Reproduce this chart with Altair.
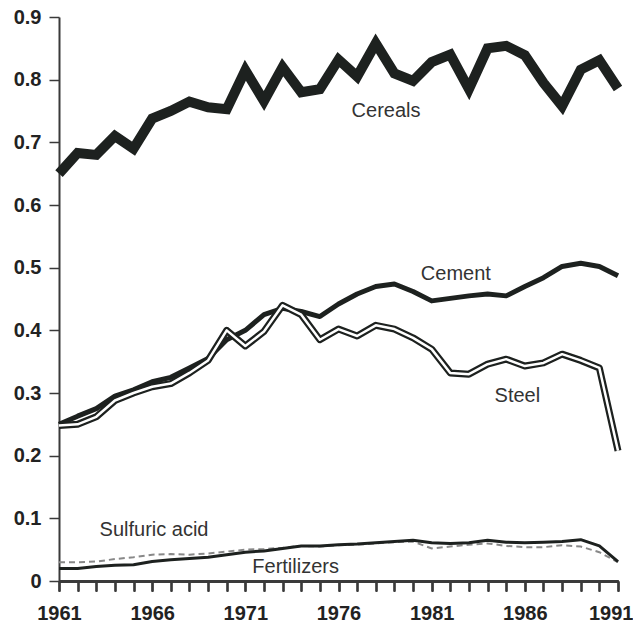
import altair as alt
import pandas as pd

years = list(range(1961, 1992))
year_labels = [1961, 1966, 1971, 1976, 1981, 1986, 1991]
cereals = [0.650, 0.683, 0.680, 0.710, 0.690, 0.738, 0.750, 0.765, 0.756, 0.753,
           0.815, 0.766, 0.820, 0.780, 0.785, 0.832, 0.805, 0.858, 0.810, 0.798,
           0.828, 0.840, 0.785, 0.850, 0.854, 0.839, 0.795, 0.758, 0.816, 0.831, 0.786]
cement = [0.250, 0.263, 0.275, 0.295, 0.305, 0.318, 0.325, 0.340, 0.355, 0.385,
          0.400, 0.425, 0.435, 0.430, 0.422, 0.442, 0.458, 0.470, 0.474, 0.462,
          0.447, 0.451, 0.455, 0.458, 0.455, 0.470, 0.484, 0.502, 0.507, 0.502, 0.487]
steel = [0.248, 0.250, 0.262, 0.288, 0.300, 0.310, 0.315, 0.332, 0.352, 0.400,
         0.375, 0.398, 0.440, 0.425, 0.385, 0.402, 0.391, 0.408, 0.402, 0.388,
         0.370, 0.332, 0.330, 0.346, 0.354, 0.343, 0.348, 0.362, 0.352, 0.340, 0.208]
fertilizers = [0.020, 0.020, 0.023, 0.025, 0.026, 0.031, 0.034, 0.036, 0.038, 0.042,
               0.046, 0.048, 0.052, 0.056, 0.056, 0.058, 0.059, 0.061, 0.063, 0.065,
               0.061, 0.060, 0.061, 0.065, 0.062, 0.061, 0.062, 0.063, 0.066, 0.056, 0.031]
sulfuric = [0.030, 0.030, 0.031, 0.035, 0.038, 0.042, 0.043, 0.042, 0.044, 0.047,
            0.050, 0.051, 0.053, 0.056, 0.055, 0.057, 0.058, 0.060, 0.062, 0.063,
            0.052, 0.055, 0.058, 0.060, 0.056, 0.054, 0.054, 0.057, 0.055, 0.046, 0.030]

label_names = ["Cereals", "Cement", "Steel", "Sulfuric acid", "Fertilizers"]
label_years = [1978.55, 1982.3, 1985.6, 1966.1, 1973.7]
label_values = [0.750, 0.490, 0.296, 0.081, 0.022]

y_ticks = [0, 0.1, 0.2, 0.3, 0.4, 0.5, 0.6, 0.7, 0.8, 0.9]

rows = []
for name, vals in [("Cereals", cereals), ("Cement", cement), ("Steel", steel),
                   ("Fertilizers", fertilizers), ("Sulfuric acid", sulfuric)]:
    for yr, v in zip(years, vals):
        rows.append({"year": yr, "value": v, "series": name})
df = pd.DataFrame(rows)
labels_df = pd.DataFrame({"name": label_names, "year": label_years, "value": label_values})

INK = "#1d211f"
AX = "#3a3a3a"
FONT = "Liberation Sans"
xscale = alt.Scale(domain=[1961, 1991], nice=False, zero=False)
yscale = alt.Scale(domain=[0, 0.9], nice=False)

last_test = "datum.value == 1991"

x_minor = alt.X("year:Q", scale=xscale,
                axis=alt.Axis(values=years, title=None, grid=False, labels=False,
                              orient="bottom", tickSize=10, domainColor=AX,
                              domainWidth=2, tickColor=AX, tickWidth=1.5))
x_major = alt.X("year:Q", scale=xscale,
                axis=alt.Axis(values=year_labels, title=None, grid=False,
                              orient="bottom", format="d",
                              tickSize=10, labelPadding=12, labelFontSize=20,
                              labelFont=FONT, labelColor="#222", labelFontWeight="bold",
                              labelAlign={"condition": {"test": last_test, "value": "right"},
                                          "value": "center"},
                              labelOffset={"condition": {"test": last_test, "value": 15},
                                           "value": 0},
                              domainColor=AX, domainWidth=2, tickColor=AX,
                              tickWidth=1.5, labelFlush=False, labelOverlap=False))
y_enc = alt.Y("value:Q", scale=yscale,
              axis=alt.Axis(values=y_ticks, title=None, grid=False,
                            labelExpr="datum.value == 0 ? '0' : format(datum.value, '.1f')",
                            tickSize=10, labelPadding=8, labelFontSize=20,
                            labelFont=FONT, labelColor="#222", labelFontWeight="bold",
                            domainColor=AX, domainWidth=2, tickColor=AX,
                            tickWidth=1.5, labelFlush=False, labelOverlap=False))

base = alt.Chart(df).encode(x=x_minor, y=y_enc)

def series(name):
    return base.transform_filter(alt.datum.series == name)

sulf = series("Sulfuric acid").mark_line(color="#888888", strokeWidth=2, strokeDash=[6, 4])
fert = series("Fertilizers").mark_line(color=INK, strokeWidth=3, strokeJoin="round")
cem = series("Cement").mark_line(color=INK, strokeWidth=5, strokeJoin="round")
steel_out = series("Steel").mark_line(color=INK, strokeWidth=7, strokeJoin="round")
steel_in = series("Steel").mark_line(color="white", strokeWidth=2.5, strokeJoin="round")
cer = series("Cereals").mark_line(color=INK, strokeWidth=10, strokeJoin="miter")

texts = alt.Chart(labels_df).mark_text(font=FONT, fontSize=20, color="#333",
                                       align="center", baseline="middle").encode(
    x=x_major, y=alt.Y("value:Q", scale=yscale), text="name:N")

chart = alt.layer(sulf, fert, cem, steel_out, steel_in, cer, texts).resolve_axis(
    x="independent"
).properties(
    width=559, height=564,
    autosize=alt.AutoSizeParams(type="none"),
    padding={"left": 51, "top": 9, "right": 15, "bottom": 46},
    background="white",
).configure_view(stroke=None)

chart.save("out.html", embed_options={"renderer": "svg", "actions": False})
